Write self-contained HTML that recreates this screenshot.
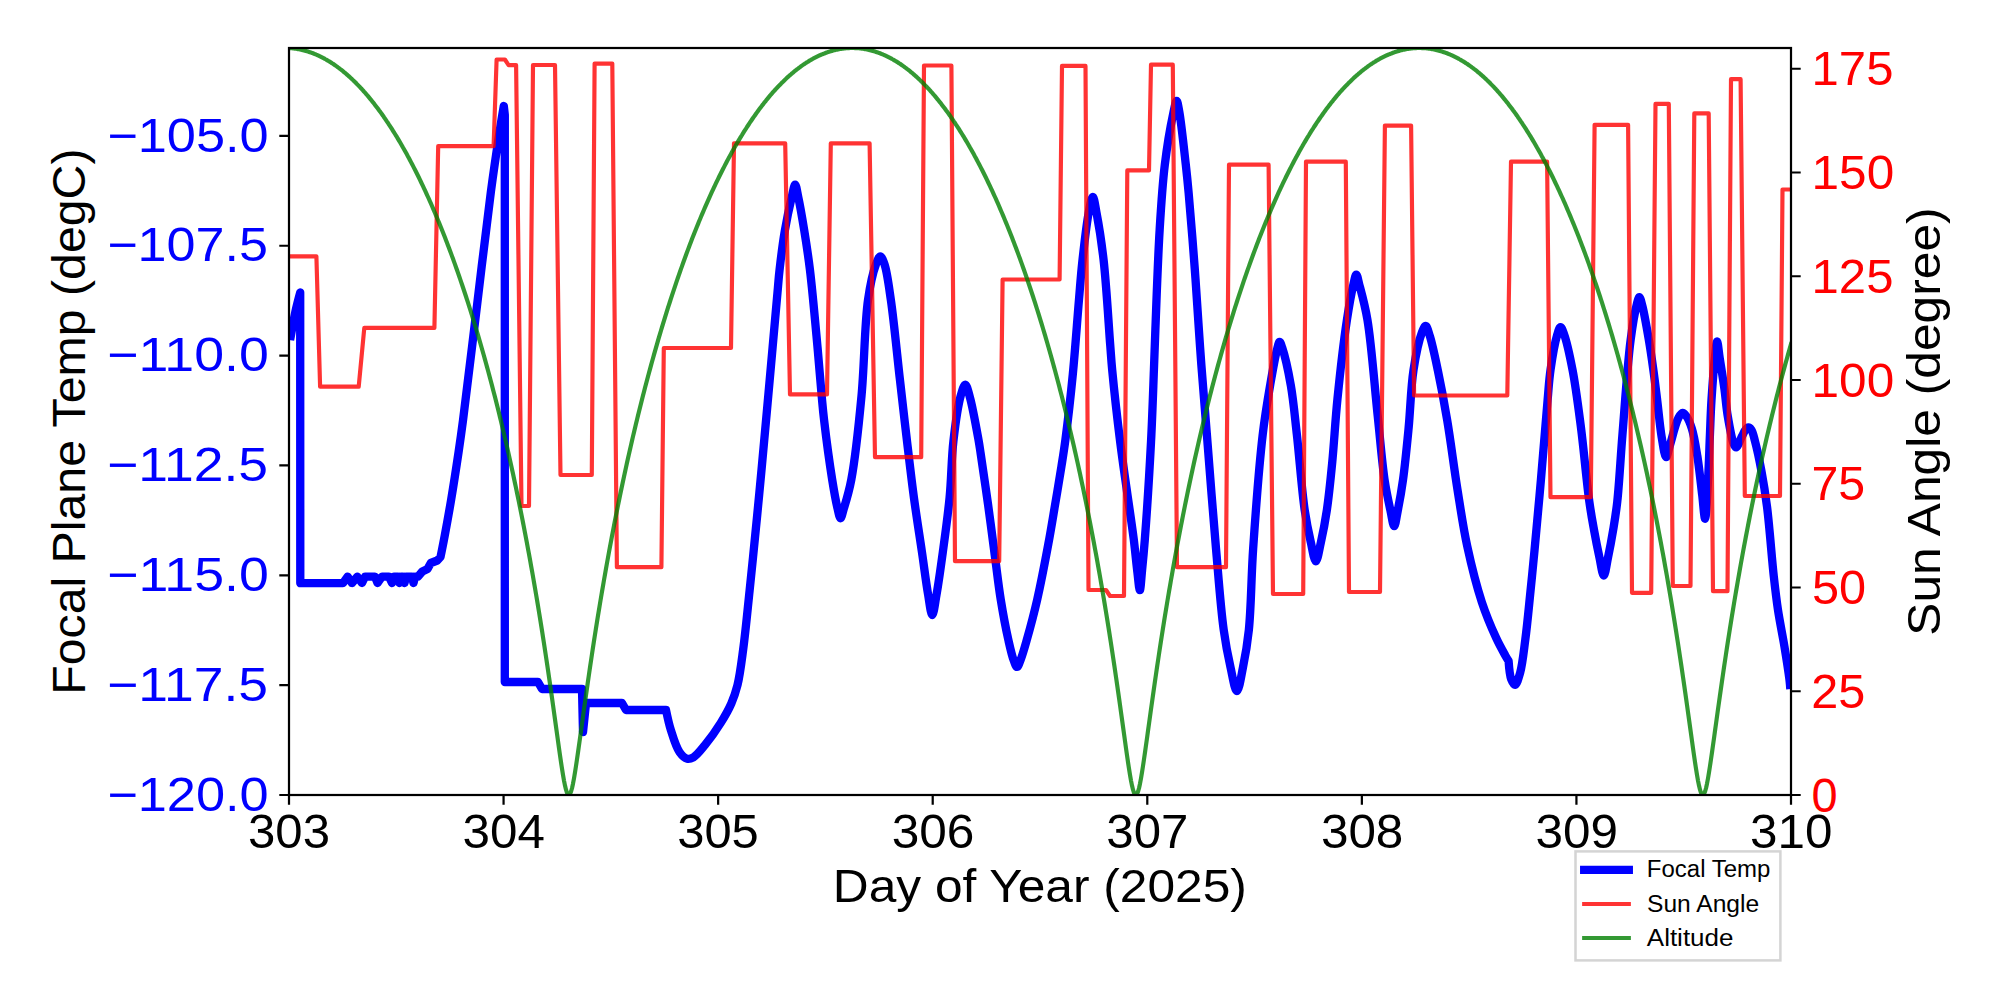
<!DOCTYPE html><html><head><meta charset="utf-8"><style>html,body{margin:0;padding:0;background:#fff;overflow:hidden}svg{display:block}</style></head><body><svg width="2000" height="1000" viewBox="0 0 2000 1000"><rect x="0" y="0" width="2000" height="1000" fill="#fff"/>
<defs><clipPath id="ax"><rect x="289.0" y="48.0" width="1502.0" height="747.0"/></clipPath></defs>
<g clip-path="url(#ax)" fill="none" stroke-linejoin="round" stroke-linecap="square">
<path d="M290.80 336.00C290.80 336.00 294.24 316.87 296.00 309.00C297.38 302.80 300.20 292.50 300.20 292.50L300.30 583.20L343.00 583.20L347.60 576.70L352.00 583.00L357.30 576.70L362.00 583.00L365.00 576.70L375.00 576.70L377.50 583.00L382.00 576.70L389.00 576.70L392.00 583.00L394.00 576.70L398.00 576.70L399.50 583.00L401.00 576.70L403.00 576.70L404.50 583.00L406.00 576.70L412.00 576.70L413.50 583.00L415.00 576.70L418.00 576.70L422.30 571.50L427.50 569.00L430.80 563.00L437.30 560.50L440.50 557.00C440.50 557.00 441.43 552.55 441.99 549.73C442.77 545.82 443.64 541.46 444.71 535.70C446.43 526.51 448.97 512.66 451.12 499.84C453.59 485.07 456.45 466.43 458.57 452.11C460.30 440.41 461.20 434.12 463.02 420.19C466.47 393.86 472.32 344.00 476.96 305.93C481.60 267.91 486.68 223.38 490.86 191.94C493.81 169.70 496.62 150.86 499.05 135.06C500.79 123.76 503.80 106.00 503.80 106.00L504.80 115.00L504.80 682.00L538.00 682.00L542.00 689.00L582.00 689.00L583.00 732.00L586.00 703.00L622.00 703.00L626.00 710.00L666.00 710.00C666.00 710.00 668.76 723.49 670.92 730.30C673.20 737.52 676.04 747.22 679.52 752.12C681.80 755.35 684.57 758.09 687.15 758.73C689.21 759.25 691.21 758.56 693.40 757.31C696.94 755.29 700.91 750.01 704.88 745.17C709.99 738.95 716.33 729.95 720.91 722.60C724.98 716.09 728.51 709.92 731.32 703.48C733.97 697.40 735.73 692.27 737.51 685.05C739.92 675.24 741.36 663.00 743.15 649.67C745.46 632.45 747.43 611.25 749.63 590.32C752.09 566.82 755.03 537.32 757.17 515.47C758.83 498.46 759.85 487.62 761.49 470.07C763.74 445.88 766.70 413.26 769.36 383.72C772.16 352.58 776.15 307.06 777.90 287.78C778.65 279.46 778.74 277.01 779.55 269.91C780.75 259.34 782.71 243.16 784.85 230.59C786.84 218.88 789.78 205.27 791.80 196.85C793.02 191.76 794.07 184.67 795.15 184.68C796.23 184.69 797.15 191.95 798.26 197.11C800.05 205.46 802.32 218.62 804.19 230.17C806.24 242.80 808.08 254.47 809.96 269.97C812.58 291.62 815.49 325.13 817.59 348.00C819.23 365.92 820.48 382.73 821.70 395.99C822.57 405.38 822.93 410.24 824.08 420.04C825.89 435.51 829.61 463.63 832.20 479.74C833.96 490.75 835.64 500.39 837.32 507.45C838.39 511.90 839.38 518.19 840.49 518.22C841.55 518.24 842.59 512.74 843.82 508.66C845.95 501.64 848.99 491.90 851.31 479.63C855.19 459.07 858.76 424.95 861.49 396.09C864.41 365.23 864.53 324.17 868.00 300.05C870.13 285.22 873.06 272.08 875.88 264.52C877.31 260.69 878.86 256.31 880.31 256.32C881.75 256.33 883.26 260.61 884.55 264.39C887.14 271.95 888.81 285.83 890.89 300.15C893.98 321.46 897.14 355.37 899.97 380.06C902.41 401.39 904.49 419.95 906.84 439.70C909.16 459.20 911.39 478.78 913.95 497.82C916.44 516.28 919.49 535.25 921.97 552.26C924.17 567.27 926.11 583.07 928.12 594.64C929.52 602.73 930.85 615.16 932.25 615.16C933.64 615.17 935.06 602.87 936.50 594.83C938.56 583.26 940.76 567.36 942.81 552.25C945.14 535.12 947.84 515.80 949.61 497.34C951.40 478.67 951.40 458.61 953.44 440.86C955.28 424.86 958.02 405.31 960.80 395.47C962.21 390.49 963.82 384.57 965.28 384.59C966.84 384.62 968.30 391.58 969.85 397.06C972.68 407.05 976.76 430.13 978.58 440.24C979.55 445.69 979.71 447.22 980.56 452.86C982.28 464.30 985.69 487.51 988.11 504.90C990.53 522.34 992.87 540.85 995.07 557.35C997.04 572.09 998.45 585.35 1000.69 599.22C1002.93 613.05 1005.96 629.24 1008.48 640.46C1010.25 648.31 1011.85 655.52 1013.67 660.30C1014.77 663.18 1015.92 666.95 1017.06 666.94C1018.23 666.93 1019.39 662.85 1020.60 659.83C1022.55 654.96 1024.51 647.90 1026.72 640.13C1029.87 629.05 1033.86 614.20 1037.21 599.57C1041.11 582.58 1045.19 560.96 1048.32 544.10C1050.94 530.06 1052.80 518.33 1054.98 505.37C1057.18 492.34 1059.62 477.92 1061.48 466.13C1063.00 456.49 1064.00 450.55 1065.41 439.79C1067.63 422.85 1070.61 396.78 1072.81 374.25C1075.15 350.35 1077.16 320.97 1078.93 300.25C1080.21 285.24 1080.85 275.15 1082.35 261.44C1084.04 245.93 1086.51 223.63 1088.81 211.95C1090.10 205.43 1091.54 196.87 1092.80 196.89C1094.08 196.90 1095.16 205.68 1096.43 212.25C1098.64 223.75 1101.52 241.79 1103.60 260.05C1106.36 284.33 1108.68 325.46 1110.24 345.25C1111.07 355.82 1111.19 359.32 1112.16 369.58C1113.85 387.35 1117.52 420.55 1120.22 442.26C1122.42 459.95 1124.60 474.31 1126.84 490.32C1129.07 506.33 1131.76 523.64 1133.62 538.31C1135.18 550.69 1136.25 563.08 1137.43 572.61C1138.28 579.45 1139.09 590.21 1139.84 590.20C1140.64 590.19 1141.31 577.84 1142.04 570.57C1142.96 561.48 1143.79 553.01 1144.80 539.89C1146.60 516.48 1149.44 472.18 1151.01 442.04C1152.35 416.17 1153.14 390.39 1153.92 369.89C1154.50 354.67 1154.71 346.38 1155.35 330.11C1156.37 304.29 1157.83 259.70 1159.65 229.94C1161.11 205.97 1162.33 185.39 1164.79 165.10C1166.98 146.99 1170.71 125.35 1173.16 113.94C1174.41 108.10 1175.59 100.84 1176.65 100.85C1177.60 100.86 1178.34 106.59 1179.25 111.55C1181.24 122.47 1184.10 149.61 1185.78 164.56C1187.01 175.50 1187.59 181.25 1188.65 193.00C1190.39 212.11 1192.96 244.47 1194.73 268.34C1196.33 289.92 1197.69 312.42 1198.90 330.04C1199.81 343.23 1200.32 351.16 1201.33 364.66C1202.75 383.69 1204.72 407.57 1206.78 433.43C1209.45 466.89 1212.96 513.57 1216.01 548.57C1218.57 577.92 1220.63 607.60 1223.65 629.47C1225.72 644.54 1228.04 656.28 1230.54 667.41C1232.53 676.30 1234.82 691.19 1236.90 691.17C1238.98 691.16 1241.18 675.99 1243.02 667.05C1245.27 656.09 1247.29 644.90 1248.84 630.10C1251.15 608.12 1251.18 577.33 1253.21 547.71C1255.59 512.95 1259.19 464.62 1262.72 434.51C1265.09 414.39 1267.66 399.68 1270.30 384.36C1272.55 371.33 1275.36 355.37 1277.31 348.31C1278.14 345.29 1278.77 342.01 1279.60 341.98C1280.38 341.94 1281.19 344.74 1282.12 347.45C1284.46 354.33 1288.43 371.78 1290.80 385.24C1293.46 400.39 1294.75 415.92 1296.80 433.97C1299.35 456.48 1301.74 489.99 1304.66 509.94C1306.58 523.04 1308.70 532.96 1310.82 542.28C1312.45 549.47 1314.17 561.25 1315.85 561.25C1317.52 561.25 1319.26 549.54 1320.88 542.35C1322.98 533.00 1325.13 521.72 1326.90 509.78C1329.04 495.37 1330.62 478.90 1332.28 461.85C1334.17 442.39 1335.20 421.30 1337.43 399.25C1339.93 374.46 1343.67 341.53 1346.86 320.39C1349.02 306.06 1351.45 292.68 1353.40 284.49C1354.43 280.15 1355.31 274.66 1356.30 274.65C1357.31 274.65 1358.21 280.48 1359.39 284.96C1361.56 293.13 1365.00 305.31 1367.45 319.92C1371.47 343.80 1374.58 386.59 1377.65 415.25C1380.17 438.77 1381.92 461.93 1384.53 479.51C1386.37 491.87 1388.67 502.33 1390.52 510.90C1391.82 516.89 1393.01 526.09 1394.21 526.08C1395.43 526.08 1396.56 516.64 1397.77 510.58C1399.46 502.10 1401.39 491.48 1403.00 479.88C1405.09 464.87 1406.90 445.77 1408.62 427.99C1410.42 409.25 1410.85 387.32 1413.49 370.16C1415.65 356.14 1419.16 339.59 1421.99 332.35C1423.23 329.19 1424.51 325.85 1425.70 325.93C1427.15 326.03 1428.42 331.64 1429.84 336.10C1432.39 344.09 1435.21 357.88 1437.84 370.41C1441.00 385.43 1444.16 402.17 1447.18 420.17C1450.74 441.36 1453.96 467.68 1457.48 489.62C1460.66 509.46 1463.17 527.46 1467.22 546.18C1471.29 564.99 1476.44 585.73 1481.87 602.22C1486.33 615.73 1491.85 628.62 1496.33 638.33C1499.48 645.18 1502.98 651.29 1505.28 655.41C1506.62 657.81 1508.60 661.00 1508.60 661.00C1508.60 661.00 1509.56 674.93 1511.20 679.14C1512.20 681.71 1513.81 684.92 1515.07 684.80C1516.79 684.63 1518.62 678.15 1520.06 673.15C1522.42 664.95 1523.71 651.72 1525.32 639.53C1527.22 625.08 1528.83 607.36 1530.41 592.02C1531.89 577.62 1533.05 565.88 1534.54 550.12C1536.47 529.75 1538.79 504.19 1540.89 480.05C1543.14 454.26 1545.78 420.29 1547.61 399.99C1548.73 387.52 1549.02 380.20 1550.52 369.79C1552.14 358.51 1554.99 342.07 1557.24 334.73C1558.32 331.21 1559.35 327.21 1560.49 327.17C1561.59 327.13 1562.76 330.62 1563.96 333.84C1566.63 341.03 1570.03 356.80 1572.61 370.28C1575.77 386.78 1578.15 405.84 1580.74 425.78C1583.76 449.00 1586.63 482.23 1589.28 501.30C1590.90 512.99 1592.23 520.11 1593.93 529.49C1595.63 538.89 1597.67 549.34 1599.48 557.64C1600.93 564.29 1602.34 575.52 1603.76 575.52C1605.18 575.51 1606.58 564.31 1607.99 557.66C1609.75 549.35 1611.70 538.85 1613.26 529.44C1614.81 520.08 1616.05 512.72 1617.30 501.35C1619.23 483.92 1620.46 459.00 1622.43 434.90C1624.78 406.12 1627.46 364.34 1630.59 340.23C1632.55 325.20 1635.00 311.00 1636.92 303.81C1637.76 300.68 1638.50 297.23 1639.34 297.24C1640.28 297.24 1641.26 301.85 1642.28 305.66C1644.32 313.24 1647.02 329.20 1648.91 340.31C1650.66 350.53 1651.99 360.08 1653.35 369.85C1654.68 379.45 1655.72 388.20 1656.99 398.42C1658.46 410.25 1659.80 425.97 1661.62 436.71C1662.97 444.64 1664.57 457.12 1666.12 457.20C1667.25 457.25 1668.18 450.84 1669.60 446.37C1671.89 439.12 1675.50 423.22 1678.49 417.84C1679.87 415.35 1681.27 413.14 1682.65 413.01C1683.78 412.91 1684.93 414.32 1686.04 415.74C1688.01 418.28 1690.09 423.14 1691.74 428.24C1694.12 435.57 1695.69 445.93 1697.33 456.01C1699.26 467.88 1700.81 483.65 1702.21 495.06C1703.30 503.95 1704.20 518.81 1705.08 518.79C1706.19 518.77 1707.24 493.46 1708.03 480.05C1708.89 465.59 1709.31 449.00 1709.92 434.94C1710.45 422.58 1710.69 412.52 1711.48 400.13C1712.38 385.89 1714.06 364.88 1715.26 354.28C1715.89 348.62 1716.43 341.32 1717.11 341.31C1717.88 341.31 1718.69 351.45 1719.67 357.82C1721.02 366.57 1723.06 379.06 1724.43 389.02C1725.67 398.13 1726.13 406.32 1727.61 415.24C1729.19 424.66 1731.67 439.29 1733.76 444.08C1734.54 445.86 1735.21 447.47 1736.12 447.41C1737.71 447.31 1740.30 439.48 1741.98 436.32C1743.24 433.96 1744.06 431.70 1745.30 430.15C1746.23 428.98 1747.29 427.54 1748.32 427.50C1749.32 427.45 1750.50 428.52 1751.39 429.78C1752.97 431.99 1753.71 436.34 1754.95 441.02C1756.96 448.58 1759.49 460.55 1761.44 471.00C1763.55 482.35 1765.26 492.79 1767.03 506.70C1769.49 526.09 1771.72 557.59 1773.82 576.62C1775.28 589.77 1776.26 598.59 1777.97 609.93C1779.77 621.88 1782.49 634.70 1784.45 646.58C1786.29 657.78 1788.61 672.83 1789.42 679.27C1789.76 681.95 1790.00 685.00 1790.00 685.00" stroke="#0000ff" stroke-width="8.33"/>
<path d="M289.0 256.3L316.4 256.3L320.1 386.7L358.7 386.7L364.3 327.9L434.4 327.9L438.2 146.1L493.6 146.1L496.6 59.5L504.9 59.5L508.6 65.1L516.1 65.1L521.5 506.0L529.0 506.0L533.0 65.0L555.0 65.0L560.5 475.0L591.8 475.0L594.6 63.6L612.3 63.6L616.9 567.2L661.4 567.2L663.8 348.0L731.0 348.0L734.0 143.4L785.2 143.4L790.0 394.4L827.0 394.4L830.8 143.4L869.6 143.4L875.0 457.2L921.2 457.2L924.0 65.5L951.4 65.5L955.0 561.2L999.2 561.2L1002.6 279.5L1059.6 279.5L1062.0 65.9L1085.5 65.9L1088.5 590.0L1106.0 590.0L1110.0 596.0L1124.0 596.0L1127.3 170.4L1149.0 170.4L1151.0 64.7L1172.8 64.7L1177.0 567.2L1226.0 567.2L1229.0 164.7L1268.6 164.7L1273.0 594.0L1303.2 594.0L1306.0 161.7L1345.8 161.7L1349.0 592.0L1380.0 592.0L1384.9 125.6L1411.1 125.6L1414.1 395.5L1507.3 395.5L1511.0 161.7L1547.1 161.7L1550.5 497.2L1590.8 497.2L1594.6 124.8L1628.1 124.8L1632.0 592.8L1651.2 592.8L1655.5 103.9L1668.8 103.9L1672.8 586.0L1690.5 586.0L1694.3 113.4L1708.7 113.4L1713.0 591.2L1727.5 591.2L1731.0 79.2L1740.6 79.2L1744.8 496.0L1780.0 496.0L1782.5 189.5L1791.0 189.5" stroke="#ff0000" stroke-opacity="0.8" stroke-width="4.17"/>
<path d="M289.0 48.1L290.0 48.2L291.0 48.2L292.0 48.3L293.0 48.4L294.0 48.5L295.0 48.7L296.0 48.8L297.0 48.9L298.0 49.1L299.0 49.3L300.0 49.5L301.0 49.7L302.0 49.9L303.0 50.2L304.0 50.4L305.0 50.7L306.0 51.0L307.0 51.3L308.0 51.6L309.0 51.9L310.0 52.2L311.0 52.6L312.0 52.9L313.0 53.3L314.0 53.7L315.0 54.1L316.0 54.5L317.0 55.0L318.0 55.4L319.0 55.9L320.0 56.4L321.0 56.9L322.0 57.4L323.0 57.9L324.0 58.4L325.0 59.0L326.0 59.5L327.0 60.1L328.0 60.7L329.0 61.3L330.0 61.9L331.0 62.5L332.0 63.2L333.0 63.8L334.0 64.5L335.0 65.2L336.0 65.9L337.0 66.6L338.0 67.4L339.0 68.1L340.0 68.9L341.0 69.6L342.0 70.4L343.0 71.2L344.0 72.1L345.0 72.9L346.0 73.7L347.0 74.6L348.0 75.5L349.0 76.4L350.0 77.3L351.0 78.2L352.0 79.1L353.0 80.1L354.0 81.1L355.0 82.0L356.0 83.0L357.0 84.1L358.0 85.1L359.0 86.1L360.0 87.2L361.0 88.3L362.0 89.3L363.0 90.4L364.0 91.6L365.0 92.7L366.0 93.8L367.0 95.0L368.0 96.2L369.0 97.4L370.0 98.6L371.0 99.8L372.0 101.1L373.0 102.3L374.0 103.6L375.0 104.9L376.0 106.2L377.0 107.5L378.0 108.8L379.0 110.2L380.0 111.5L381.0 112.9L382.0 114.3L383.0 115.7L384.0 117.2L385.0 118.6L386.0 120.1L387.0 121.6L388.0 123.0L389.0 124.6L390.0 126.1L391.0 127.6L392.0 129.2L393.0 130.8L394.0 132.4L395.0 134.0L396.0 135.6L397.0 137.2L398.0 138.9L399.0 140.6L400.0 142.3L401.0 144.0L402.0 145.7L403.0 147.5L404.0 149.2L405.0 151.0L406.0 152.8L407.0 154.6L408.0 156.5L409.0 158.3L410.0 160.2L411.0 162.1L412.0 164.0L413.0 165.9L414.0 167.9L415.0 169.8L416.0 171.8L417.0 173.8L418.0 175.8L419.0 177.8L420.0 179.9L421.0 182.0L422.0 184.1L423.0 186.2L424.0 188.3L425.0 190.4L426.0 192.6L427.0 194.8L428.0 197.0L429.0 199.2L430.0 201.5L431.0 203.7L432.0 206.0L433.0 208.3L434.0 210.7L435.0 213.0L436.0 215.4L437.0 217.8L438.0 220.2L439.0 222.6L440.0 225.0L441.0 227.5L442.0 230.0L443.0 232.5L444.0 235.0L445.0 237.6L446.0 240.2L447.0 242.8L448.0 245.4L449.0 248.0L450.0 250.7L451.0 253.4L452.0 256.1L453.0 258.8L454.0 261.6L455.0 264.4L456.0 267.2L457.0 270.0L458.0 272.9L459.0 275.7L460.0 278.6L461.0 281.6L462.0 284.5L463.0 287.5L464.0 290.5L465.0 293.5L466.0 296.5L467.0 299.6L468.0 302.7L469.0 305.8L470.0 309.0L471.0 312.2L472.0 315.4L473.0 318.6L474.0 321.9L475.0 325.2L476.0 328.5L477.0 331.8L478.0 335.2L479.0 338.6L480.0 342.0L481.0 345.5L482.0 349.0L483.0 352.5L484.0 356.0L485.0 359.6L486.0 363.2L487.0 366.9L488.0 370.5L489.0 374.2L490.0 378.0L491.0 381.7L492.0 385.5L493.0 389.4L494.0 393.2L495.0 397.1L496.0 401.1L497.0 405.1L498.0 409.1L499.0 413.1L500.0 417.2L501.0 421.3L502.0 425.5L503.0 429.7L504.0 433.9L505.0 438.2L506.0 442.5L507.0 446.8L508.0 451.2L509.0 455.6L510.0 460.1L511.0 464.6L512.0 469.2L513.0 473.8L514.0 478.5L515.0 483.2L516.0 487.9L517.0 492.7L518.0 497.5L519.0 502.4L520.0 507.4L521.0 512.4L522.0 517.4L523.0 522.5L524.0 527.6L525.0 532.8L526.0 538.1L527.0 543.4L528.0 548.8L529.0 554.2L530.0 559.7L531.0 565.3L532.0 570.9L533.0 576.5L534.0 582.3L535.0 588.1L536.0 594.0L537.0 599.9L538.0 605.9L539.0 612.0L540.0 618.2L541.0 624.4L542.0 630.7L543.0 637.1L544.0 643.5L545.0 650.1L546.0 656.7L547.0 663.4L548.0 670.1L549.0 677.0L550.0 683.9L551.0 690.9L552.0 697.9L553.0 705.0L554.0 712.2L555.0 719.4L556.0 726.6L557.0 733.8L558.0 741.0L559.0 748.2L560.0 755.2L561.0 762.1L562.0 768.6L563.0 774.9L564.0 780.6L565.0 785.6L566.0 789.7L567.0 792.8L568.0 794.5L569.0 795.0L570.0 794.0L571.0 791.7L572.0 788.2L573.0 783.7L574.0 778.3L575.0 772.4L576.0 766.0L577.0 759.3L578.0 752.4L579.0 745.3L580.0 738.2L581.0 730.9L582.0 723.7L583.0 716.5L584.0 709.3L585.0 702.2L586.0 695.1L587.0 688.1L588.0 681.1L589.0 674.2L590.0 667.4L591.0 660.7L592.0 654.0L593.0 647.4L594.0 640.9L595.0 634.5L596.0 628.2L597.0 621.9L598.0 615.7L599.0 609.6L600.0 603.5L601.0 597.5L602.0 591.6L603.0 585.8L604.0 580.0L605.0 574.3L606.0 568.6L607.0 563.0L608.0 557.5L609.0 552.0L610.0 546.6L611.0 541.3L612.0 536.0L613.0 530.8L614.0 525.6L615.0 520.5L616.0 515.4L617.0 510.4L618.0 505.4L619.0 500.5L620.0 495.6L621.0 490.8L622.0 486.0L623.0 481.3L624.0 476.6L625.0 472.0L626.0 467.4L627.0 462.8L628.0 458.3L629.0 453.9L630.0 449.5L631.0 445.1L632.0 440.7L633.0 436.4L634.0 432.2L635.0 428.0L636.0 423.8L637.0 419.7L638.0 415.5L639.0 411.5L640.0 407.5L641.0 403.5L642.0 399.5L643.0 395.6L644.0 391.7L645.0 387.8L646.0 384.0L647.0 380.2L648.0 376.5L649.0 372.7L650.0 369.1L651.0 365.4L652.0 361.8L653.0 358.2L654.0 354.6L655.0 351.1L656.0 347.6L657.0 344.1L658.0 340.6L659.0 337.2L660.0 333.8L661.0 330.5L662.0 327.1L663.0 323.8L664.0 320.6L665.0 317.3L666.0 314.1L667.0 310.9L668.0 307.7L669.0 304.6L670.0 301.5L671.0 298.4L672.0 295.3L673.0 292.3L674.0 289.3L675.0 286.3L676.0 283.3L677.0 280.4L678.0 277.5L679.0 274.6L680.0 271.7L681.0 268.9L682.0 266.1L683.0 263.3L684.0 260.5L685.0 257.7L686.0 255.0L687.0 252.3L688.0 249.6L689.0 247.0L690.0 244.3L691.0 241.7L692.0 239.1L693.0 236.6L694.0 234.0L695.0 231.5L696.0 229.0L697.0 226.5L698.0 224.1L699.0 221.6L700.0 219.2L701.0 216.8L702.0 214.4L703.0 212.1L704.0 209.7L705.0 207.4L706.0 205.1L707.0 202.8L708.0 200.6L709.0 198.3L710.0 196.1L711.0 193.9L712.0 191.7L713.0 189.6L714.0 187.4L715.0 185.3L716.0 183.2L717.0 181.1L718.0 179.1L719.0 177.0L720.0 175.0L721.0 173.0L722.0 171.0L723.0 169.0L724.0 167.1L725.0 165.1L726.0 163.2L727.0 161.3L728.0 159.4L729.0 157.6L730.0 155.7L731.0 153.9L732.0 152.1L733.0 150.3L734.0 148.5L735.0 146.8L736.0 145.0L737.0 143.3L738.0 141.6L739.0 139.9L740.0 138.2L741.0 136.6L742.0 135.0L743.0 133.3L744.0 131.7L745.0 130.1L746.0 128.6L747.0 127.0L748.0 125.5L749.0 124.0L750.0 122.4L751.0 121.0L752.0 119.5L753.0 118.0L754.0 116.6L755.0 115.2L756.0 113.8L757.0 112.4L758.0 111.0L759.0 109.6L760.0 108.3L761.0 107.0L762.0 105.6L763.0 104.4L764.0 103.1L765.0 101.8L766.0 100.6L767.0 99.3L768.0 98.1L769.0 96.9L770.0 95.7L771.0 94.5L772.0 93.4L773.0 92.2L774.0 91.1L775.0 90.0L776.0 88.9L777.0 87.8L778.0 86.8L779.0 85.7L780.0 84.7L781.0 83.7L782.0 82.6L783.0 81.7L784.0 80.7L785.0 79.7L786.0 78.8L787.0 77.8L788.0 76.9L789.0 76.0L790.0 75.1L791.0 74.3L792.0 73.4L793.0 72.6L794.0 71.7L795.0 70.9L796.0 70.1L797.0 69.3L798.0 68.6L799.0 67.8L800.0 67.1L801.0 66.3L802.0 65.6L803.0 64.9L804.0 64.2L805.0 63.6L806.0 62.9L807.0 62.3L808.0 61.7L809.0 61.0L810.0 60.4L811.0 59.9L812.0 59.3L813.0 58.7L814.0 58.2L815.0 57.7L816.0 57.2L817.0 56.7L818.0 56.2L819.0 55.7L820.0 55.2L821.0 54.8L822.0 54.4L823.0 54.0L824.0 53.6L825.0 53.2L826.0 52.8L827.0 52.4L828.0 52.1L829.0 51.8L830.0 51.4L831.0 51.1L832.0 50.9L833.0 50.6L834.0 50.3L835.0 50.1L836.0 49.8L837.0 49.6L838.0 49.4L839.0 49.2L840.0 49.0L841.0 48.9L842.0 48.7L843.0 48.6L844.0 48.5L845.0 48.4L846.0 48.3L847.0 48.2L848.0 48.1L849.0 48.1L850.0 48.0L851.0 48.0L852.0 48.0L853.0 48.0L854.0 48.0L855.0 48.1L856.0 48.1L857.0 48.2L858.0 48.2L859.0 48.3L860.0 48.4L861.0 48.5L862.0 48.7L863.0 48.8L864.0 48.9L865.0 49.1L866.0 49.3L867.0 49.5L868.0 49.7L869.0 49.9L870.0 50.2L871.0 50.4L872.0 50.7L873.0 51.0L874.0 51.3L875.0 51.6L876.0 51.9L877.0 52.2L878.0 52.6L879.0 52.9L880.0 53.3L881.0 53.7L882.0 54.1L883.0 54.5L884.0 55.0L885.0 55.4L886.0 55.9L887.0 56.4L888.0 56.9L889.0 57.4L890.0 57.9L891.0 58.4L892.0 59.0L893.0 59.5L894.0 60.1L895.0 60.7L896.0 61.3L897.0 61.9L898.0 62.5L899.0 63.2L900.0 63.8L901.0 64.5L902.0 65.2L903.0 65.9L904.0 66.6L905.0 67.4L906.0 68.1L907.0 68.9L908.0 69.6L909.0 70.4L910.0 71.2L911.0 72.1L912.0 72.9L913.0 73.7L914.0 74.6L915.0 75.5L916.0 76.4L917.0 77.3L918.0 78.2L919.0 79.1L920.0 80.1L921.0 81.1L922.0 82.0L923.0 83.0L924.0 84.1L925.0 85.1L926.0 86.1L927.0 87.2L928.0 88.3L929.0 89.3L930.0 90.4L931.0 91.6L932.0 92.7L933.0 93.8L934.0 95.0L935.0 96.2L936.0 97.4L937.0 98.6L938.0 99.8L939.0 101.1L940.0 102.3L941.0 103.6L942.0 104.9L943.0 106.2L944.0 107.5L945.0 108.8L946.0 110.2L947.0 111.5L948.0 112.9L949.0 114.3L950.0 115.7L951.0 117.2L952.0 118.6L953.0 120.1L954.0 121.6L955.0 123.0L956.0 124.6L957.0 126.1L958.0 127.6L959.0 129.2L960.0 130.8L961.0 132.4L962.0 134.0L963.0 135.6L964.0 137.2L965.0 138.9L966.0 140.6L967.0 142.3L968.0 144.0L969.0 145.7L970.0 147.5L971.0 149.2L972.0 151.0L973.0 152.8L974.0 154.6L975.0 156.5L976.0 158.3L977.0 160.2L978.0 162.1L979.0 164.0L980.0 165.9L981.0 167.9L982.0 169.8L983.0 171.8L984.0 173.8L985.0 175.8L986.0 177.8L987.0 179.9L988.0 182.0L989.0 184.1L990.0 186.2L991.0 188.3L992.0 190.4L993.0 192.6L994.0 194.8L995.0 197.0L996.0 199.2L997.0 201.5L998.0 203.7L999.0 206.0L1000.0 208.3L1001.0 210.7L1002.0 213.0L1003.0 215.4L1004.0 217.8L1005.0 220.2L1006.0 222.6L1007.0 225.0L1008.0 227.5L1009.0 230.0L1010.0 232.5L1011.0 235.0L1012.0 237.6L1013.0 240.2L1014.0 242.8L1015.0 245.4L1016.0 248.0L1017.0 250.7L1018.0 253.4L1019.0 256.1L1020.0 258.8L1021.0 261.6L1022.0 264.4L1023.0 267.2L1024.0 270.0L1025.0 272.9L1026.0 275.7L1027.0 278.6L1028.0 281.6L1029.0 284.5L1030.0 287.5L1031.0 290.5L1032.0 293.5L1033.0 296.5L1034.0 299.6L1035.0 302.7L1036.0 305.8L1037.0 309.0L1038.0 312.2L1039.0 315.4L1040.0 318.6L1041.0 321.9L1042.0 325.2L1043.0 328.5L1044.0 331.8L1045.0 335.2L1046.0 338.6L1047.0 342.0L1048.0 345.5L1049.0 349.0L1050.0 352.5L1051.0 356.0L1052.0 359.6L1053.0 363.2L1054.0 366.9L1055.0 370.5L1056.0 374.2L1057.0 378.0L1058.0 381.7L1059.0 385.5L1060.0 389.4L1061.0 393.2L1062.0 397.1L1063.0 401.1L1064.0 405.1L1065.0 409.1L1066.0 413.1L1067.0 417.2L1068.0 421.3L1069.0 425.5L1070.0 429.7L1071.0 433.9L1072.0 438.2L1073.0 442.5L1074.0 446.8L1075.0 451.2L1076.0 455.6L1077.0 460.1L1078.0 464.6L1079.0 469.2L1080.0 473.8L1081.0 478.5L1082.0 483.2L1083.0 487.9L1084.0 492.7L1085.0 497.5L1086.0 502.4L1087.0 507.4L1088.0 512.4L1089.0 517.4L1090.0 522.5L1091.0 527.6L1092.0 532.8L1093.0 538.1L1094.0 543.4L1095.0 548.8L1096.0 554.2L1097.0 559.7L1098.0 565.3L1099.0 570.9L1100.0 576.5L1101.0 582.3L1102.0 588.1L1103.0 594.0L1104.0 599.9L1105.0 605.9L1106.0 612.0L1107.0 618.2L1108.0 624.4L1109.0 630.7L1110.0 637.1L1111.0 643.5L1112.0 650.1L1113.0 656.7L1114.0 663.4L1115.0 670.1L1116.0 677.0L1117.0 683.9L1118.0 690.9L1119.0 697.9L1120.0 705.0L1121.0 712.2L1122.0 719.4L1123.0 726.6L1124.0 733.8L1125.0 741.0L1126.0 748.2L1127.0 755.2L1128.0 762.1L1129.0 768.6L1130.0 774.9L1131.0 780.6L1132.0 785.6L1133.0 789.7L1134.0 792.8L1135.0 794.5L1136.0 795.0L1137.0 794.0L1138.0 791.7L1139.0 788.2L1140.0 783.7L1141.0 778.3L1142.0 772.4L1143.0 766.0L1144.0 759.3L1145.0 752.4L1146.0 745.3L1147.0 738.2L1148.0 730.9L1149.0 723.7L1150.0 716.5L1151.0 709.3L1152.0 702.2L1153.0 695.1L1154.0 688.1L1155.0 681.1L1156.0 674.2L1157.0 667.4L1158.0 660.7L1159.0 654.0L1160.0 647.4L1161.0 640.9L1162.0 634.5L1163.0 628.2L1164.0 621.9L1165.0 615.7L1166.0 609.6L1167.0 603.5L1168.0 597.5L1169.0 591.6L1170.0 585.8L1171.0 580.0L1172.0 574.3L1173.0 568.6L1174.0 563.0L1175.0 557.5L1176.0 552.0L1177.0 546.6L1178.0 541.3L1179.0 536.0L1180.0 530.8L1181.0 525.6L1182.0 520.5L1183.0 515.4L1184.0 510.4L1185.0 505.4L1186.0 500.5L1187.0 495.6L1188.0 490.8L1189.0 486.0L1190.0 481.3L1191.0 476.6L1192.0 472.0L1193.0 467.4L1194.0 462.8L1195.0 458.3L1196.0 453.9L1197.0 449.5L1198.0 445.1L1199.0 440.7L1200.0 436.4L1201.0 432.2L1202.0 428.0L1203.0 423.8L1204.0 419.7L1205.0 415.5L1206.0 411.5L1207.0 407.5L1208.0 403.5L1209.0 399.5L1210.0 395.6L1211.0 391.7L1212.0 387.8L1213.0 384.0L1214.0 380.2L1215.0 376.5L1216.0 372.7L1217.0 369.1L1218.0 365.4L1219.0 361.8L1220.0 358.2L1221.0 354.6L1222.0 351.1L1223.0 347.6L1224.0 344.1L1225.0 340.6L1226.0 337.2L1227.0 333.8L1228.0 330.5L1229.0 327.1L1230.0 323.8L1231.0 320.6L1232.0 317.3L1233.0 314.1L1234.0 310.9L1235.0 307.7L1236.0 304.6L1237.0 301.5L1238.0 298.4L1239.0 295.3L1240.0 292.3L1241.0 289.3L1242.0 286.3L1243.0 283.3L1244.0 280.4L1245.0 277.5L1246.0 274.6L1247.0 271.7L1248.0 268.9L1249.0 266.1L1250.0 263.3L1251.0 260.5L1252.0 257.7L1253.0 255.0L1254.0 252.3L1255.0 249.6L1256.0 247.0L1257.0 244.3L1258.0 241.7L1259.0 239.1L1260.0 236.6L1261.0 234.0L1262.0 231.5L1263.0 229.0L1264.0 226.5L1265.0 224.1L1266.0 221.6L1267.0 219.2L1268.0 216.8L1269.0 214.4L1270.0 212.1L1271.0 209.7L1272.0 207.4L1273.0 205.1L1274.0 202.8L1275.0 200.6L1276.0 198.3L1277.0 196.1L1278.0 193.9L1279.0 191.7L1280.0 189.6L1281.0 187.4L1282.0 185.3L1283.0 183.2L1284.0 181.1L1285.0 179.1L1286.0 177.0L1287.0 175.0L1288.0 173.0L1289.0 171.0L1290.0 169.0L1291.0 167.1L1292.0 165.1L1293.0 163.2L1294.0 161.3L1295.0 159.4L1296.0 157.6L1297.0 155.7L1298.0 153.9L1299.0 152.1L1300.0 150.3L1301.0 148.5L1302.0 146.8L1303.0 145.0L1304.0 143.3L1305.0 141.6L1306.0 139.9L1307.0 138.2L1308.0 136.6L1309.0 135.0L1310.0 133.3L1311.0 131.7L1312.0 130.1L1313.0 128.6L1314.0 127.0L1315.0 125.5L1316.0 124.0L1317.0 122.4L1318.0 121.0L1319.0 119.5L1320.0 118.0L1321.0 116.6L1322.0 115.2L1323.0 113.8L1324.0 112.4L1325.0 111.0L1326.0 109.6L1327.0 108.3L1328.0 107.0L1329.0 105.6L1330.0 104.4L1331.0 103.1L1332.0 101.8L1333.0 100.6L1334.0 99.3L1335.0 98.1L1336.0 96.9L1337.0 95.7L1338.0 94.5L1339.0 93.4L1340.0 92.2L1341.0 91.1L1342.0 90.0L1343.0 88.9L1344.0 87.8L1345.0 86.8L1346.0 85.7L1347.0 84.7L1348.0 83.7L1349.0 82.6L1350.0 81.7L1351.0 80.7L1352.0 79.7L1353.0 78.8L1354.0 77.8L1355.0 76.9L1356.0 76.0L1357.0 75.1L1358.0 74.3L1359.0 73.4L1360.0 72.6L1361.0 71.7L1362.0 70.9L1363.0 70.1L1364.0 69.3L1365.0 68.6L1366.0 67.8L1367.0 67.1L1368.0 66.3L1369.0 65.6L1370.0 64.9L1371.0 64.2L1372.0 63.6L1373.0 62.9L1374.0 62.3L1375.0 61.7L1376.0 61.0L1377.0 60.4L1378.0 59.9L1379.0 59.3L1380.0 58.7L1381.0 58.2L1382.0 57.7L1383.0 57.2L1384.0 56.7L1385.0 56.2L1386.0 55.7L1387.0 55.2L1388.0 54.8L1389.0 54.4L1390.0 54.0L1391.0 53.6L1392.0 53.2L1393.0 52.8L1394.0 52.4L1395.0 52.1L1396.0 51.8L1397.0 51.4L1398.0 51.1L1399.0 50.9L1400.0 50.6L1401.0 50.3L1402.0 50.1L1403.0 49.8L1404.0 49.6L1405.0 49.4L1406.0 49.2L1407.0 49.0L1408.0 48.9L1409.0 48.7L1410.0 48.6L1411.0 48.5L1412.0 48.4L1413.0 48.3L1414.0 48.2L1415.0 48.1L1416.0 48.1L1417.0 48.0L1418.0 48.0L1419.0 48.0L1420.0 48.0L1421.0 48.0L1422.0 48.1L1423.0 48.1L1424.0 48.2L1425.0 48.2L1426.0 48.3L1427.0 48.4L1428.0 48.5L1429.0 48.7L1430.0 48.8L1431.0 48.9L1432.0 49.1L1433.0 49.3L1434.0 49.5L1435.0 49.7L1436.0 49.9L1437.0 50.2L1438.0 50.4L1439.0 50.7L1440.0 51.0L1441.0 51.3L1442.0 51.6L1443.0 51.9L1444.0 52.2L1445.0 52.6L1446.0 52.9L1447.0 53.3L1448.0 53.7L1449.0 54.1L1450.0 54.5L1451.0 55.0L1452.0 55.4L1453.0 55.9L1454.0 56.4L1455.0 56.9L1456.0 57.4L1457.0 57.9L1458.0 58.4L1459.0 59.0L1460.0 59.5L1461.0 60.1L1462.0 60.7L1463.0 61.3L1464.0 61.9L1465.0 62.5L1466.0 63.2L1467.0 63.8L1468.0 64.5L1469.0 65.2L1470.0 65.9L1471.0 66.6L1472.0 67.4L1473.0 68.1L1474.0 68.9L1475.0 69.6L1476.0 70.4L1477.0 71.2L1478.0 72.1L1479.0 72.9L1480.0 73.7L1481.0 74.6L1482.0 75.5L1483.0 76.4L1484.0 77.3L1485.0 78.2L1486.0 79.1L1487.0 80.1L1488.0 81.1L1489.0 82.0L1490.0 83.0L1491.0 84.1L1492.0 85.1L1493.0 86.1L1494.0 87.2L1495.0 88.3L1496.0 89.3L1497.0 90.4L1498.0 91.6L1499.0 92.7L1500.0 93.8L1501.0 95.0L1502.0 96.2L1503.0 97.4L1504.0 98.6L1505.0 99.8L1506.0 101.1L1507.0 102.3L1508.0 103.6L1509.0 104.9L1510.0 106.2L1511.0 107.5L1512.0 108.8L1513.0 110.2L1514.0 111.5L1515.0 112.9L1516.0 114.3L1517.0 115.7L1518.0 117.2L1519.0 118.6L1520.0 120.1L1521.0 121.6L1522.0 123.0L1523.0 124.6L1524.0 126.1L1525.0 127.6L1526.0 129.2L1527.0 130.8L1528.0 132.4L1529.0 134.0L1530.0 135.6L1531.0 137.2L1532.0 138.9L1533.0 140.6L1534.0 142.3L1535.0 144.0L1536.0 145.7L1537.0 147.5L1538.0 149.2L1539.0 151.0L1540.0 152.8L1541.0 154.6L1542.0 156.5L1543.0 158.3L1544.0 160.2L1545.0 162.1L1546.0 164.0L1547.0 165.9L1548.0 167.9L1549.0 169.8L1550.0 171.8L1551.0 173.8L1552.0 175.8L1553.0 177.8L1554.0 179.9L1555.0 182.0L1556.0 184.1L1557.0 186.2L1558.0 188.3L1559.0 190.4L1560.0 192.6L1561.0 194.8L1562.0 197.0L1563.0 199.2L1564.0 201.5L1565.0 203.7L1566.0 206.0L1567.0 208.3L1568.0 210.7L1569.0 213.0L1570.0 215.4L1571.0 217.8L1572.0 220.2L1573.0 222.6L1574.0 225.0L1575.0 227.5L1576.0 230.0L1577.0 232.5L1578.0 235.0L1579.0 237.6L1580.0 240.2L1581.0 242.8L1582.0 245.4L1583.0 248.0L1584.0 250.7L1585.0 253.4L1586.0 256.1L1587.0 258.8L1588.0 261.6L1589.0 264.4L1590.0 267.2L1591.0 270.0L1592.0 272.9L1593.0 275.7L1594.0 278.6L1595.0 281.6L1596.0 284.5L1597.0 287.5L1598.0 290.5L1599.0 293.5L1600.0 296.5L1601.0 299.6L1602.0 302.7L1603.0 305.8L1604.0 309.0L1605.0 312.2L1606.0 315.4L1607.0 318.6L1608.0 321.9L1609.0 325.2L1610.0 328.5L1611.0 331.8L1612.0 335.2L1613.0 338.6L1614.0 342.0L1615.0 345.5L1616.0 349.0L1617.0 352.5L1618.0 356.0L1619.0 359.6L1620.0 363.2L1621.0 366.9L1622.0 370.5L1623.0 374.2L1624.0 378.0L1625.0 381.7L1626.0 385.5L1627.0 389.4L1628.0 393.2L1629.0 397.1L1630.0 401.1L1631.0 405.1L1632.0 409.1L1633.0 413.1L1634.0 417.2L1635.0 421.3L1636.0 425.5L1637.0 429.7L1638.0 433.9L1639.0 438.2L1640.0 442.5L1641.0 446.8L1642.0 451.2L1643.0 455.6L1644.0 460.1L1645.0 464.6L1646.0 469.2L1647.0 473.8L1648.0 478.5L1649.0 483.2L1650.0 487.9L1651.0 492.7L1652.0 497.5L1653.0 502.4L1654.0 507.4L1655.0 512.4L1656.0 517.4L1657.0 522.5L1658.0 527.6L1659.0 532.8L1660.0 538.1L1661.0 543.4L1662.0 548.8L1663.0 554.2L1664.0 559.7L1665.0 565.3L1666.0 570.9L1667.0 576.5L1668.0 582.3L1669.0 588.1L1670.0 594.0L1671.0 599.9L1672.0 605.9L1673.0 612.0L1674.0 618.2L1675.0 624.4L1676.0 630.7L1677.0 637.1L1678.0 643.5L1679.0 650.1L1680.0 656.7L1681.0 663.4L1682.0 670.1L1683.0 677.0L1684.0 683.9L1685.0 690.9L1686.0 697.9L1687.0 705.0L1688.0 712.2L1689.0 719.4L1690.0 726.6L1691.0 733.8L1692.0 741.0L1693.0 748.2L1694.0 755.2L1695.0 762.1L1696.0 768.6L1697.0 774.9L1698.0 780.6L1699.0 785.6L1700.0 789.7L1701.0 792.8L1702.0 794.5L1703.0 795.0L1704.0 794.0L1705.0 791.7L1706.0 788.2L1707.0 783.7L1708.0 778.3L1709.0 772.4L1710.0 766.0L1711.0 759.3L1712.0 752.4L1713.0 745.3L1714.0 738.2L1715.0 730.9L1716.0 723.7L1717.0 716.5L1718.0 709.3L1719.0 702.2L1720.0 695.1L1721.0 688.1L1722.0 681.1L1723.0 674.2L1724.0 667.4L1725.0 660.7L1726.0 654.0L1727.0 647.4L1728.0 640.9L1729.0 634.5L1730.0 628.2L1731.0 621.9L1732.0 615.7L1733.0 609.6L1734.0 603.5L1735.0 597.5L1736.0 591.6L1737.0 585.8L1738.0 580.0L1739.0 574.3L1740.0 568.6L1741.0 563.0L1742.0 557.5L1743.0 552.0L1744.0 546.6L1745.0 541.3L1746.0 536.0L1747.0 530.8L1748.0 525.6L1749.0 520.5L1750.0 515.4L1751.0 510.4L1752.0 505.4L1753.0 500.5L1754.0 495.6L1755.0 490.8L1756.0 486.0L1757.0 481.3L1758.0 476.6L1759.0 472.0L1760.0 467.4L1761.0 462.8L1762.0 458.3L1763.0 453.9L1764.0 449.5L1765.0 445.1L1766.0 440.7L1767.0 436.4L1768.0 432.2L1769.0 428.0L1770.0 423.8L1771.0 419.7L1772.0 415.5L1773.0 411.5L1774.0 407.5L1775.0 403.5L1776.0 399.5L1777.0 395.6L1778.0 391.7L1779.0 387.8L1780.0 384.0L1781.0 380.2L1782.0 376.5L1783.0 372.7L1784.0 369.1L1785.0 365.4L1786.0 361.8L1787.0 358.2L1788.0 354.6L1789.0 351.1L1790.0 347.6L1791.0 344.1" stroke="#008000" stroke-opacity="0.8" stroke-width="4.17"/>
</g>
<rect x="289.0" y="48.0" width="1502.0" height="747.0" fill="none" stroke="#000" stroke-width="2.22" stroke-linejoin="miter"/>
<path d="M279.3 795.00H289.0M279.3 685.15H289.0M279.3 575.29H289.0M279.3 465.44H289.0M279.3 355.59H289.0M279.3 245.74H289.0M279.3 135.88H289.0M1791.0 795.00H1800.7M1791.0 691.25H1800.7M1791.0 587.50H1800.7M1791.0 483.75H1800.7M1791.0 380.00H1800.7M1791.0 276.25H1800.7M1791.0 172.50H1800.7M1791.0 68.75H1800.7M289.00 795.0V804.7M503.57 795.0V804.7M718.14 795.0V804.7M932.71 795.0V804.7M1147.29 795.0V804.7M1361.86 795.0V804.7M1576.43 795.0V804.7M1791.00 795.0V804.7" stroke="#000" stroke-width="2.22" fill="none"/>
<g font-family="Liberation Sans, sans-serif">
<text x="107.19" y="810.70" fill="#0000ff" font-size="48.00" textLength="161.53" lengthAdjust="spacingAndGlyphs">−120.0</text>
<text x="107.13" y="700.85" fill="#0000ff" font-size="48.00" textLength="160.92" lengthAdjust="spacingAndGlyphs">−117.5</text>
<text x="107.12" y="590.99" fill="#0000ff" font-size="48.00" textLength="161.69" lengthAdjust="spacingAndGlyphs">−115.0</text>
<text x="107.13" y="481.14" fill="#0000ff" font-size="48.00" textLength="160.92" lengthAdjust="spacingAndGlyphs">−112.5</text>
<text x="107.12" y="371.29" fill="#0000ff" font-size="48.00" textLength="161.69" lengthAdjust="spacingAndGlyphs">−110.0</text>
<text x="107.20" y="261.44" fill="#0000ff" font-size="48.00" textLength="160.75" lengthAdjust="spacingAndGlyphs">−107.5</text>
<text x="107.19" y="151.58" fill="#0000ff" font-size="48.00" textLength="161.53" lengthAdjust="spacingAndGlyphs">−105.0</text>
<text x="1811.41" y="811.60" fill="#ff0000" font-size="48.00" textLength="26.14" lengthAdjust="spacingAndGlyphs">0</text>
<text x="1811.19" y="707.85" fill="#ff0000" font-size="48.00" textLength="54.04" lengthAdjust="spacingAndGlyphs">25</text>
<text x="1811.90" y="604.10" fill="#ff0000" font-size="48.00" textLength="54.10" lengthAdjust="spacingAndGlyphs">50</text>
<text x="1811.53" y="500.35" fill="#ff0000" font-size="48.00" textLength="53.68" lengthAdjust="spacingAndGlyphs">75</text>
<text x="1811.57" y="396.60" fill="#ff0000" font-size="48.00" textLength="82.61" lengthAdjust="spacingAndGlyphs">100</text>
<text x="1811.61" y="292.85" fill="#ff0000" font-size="48.00" textLength="81.79" lengthAdjust="spacingAndGlyphs">125</text>
<text x="1811.57" y="189.10" fill="#ff0000" font-size="48.00" textLength="82.61" lengthAdjust="spacingAndGlyphs">150</text>
<text x="1811.61" y="85.35" fill="#ff0000" font-size="48.00" textLength="81.79" lengthAdjust="spacingAndGlyphs">175</text>
<text x="248.08" y="847.90" fill="#000" font-size="48.00" textLength="81.86" lengthAdjust="spacingAndGlyphs">303</text>
<text x="462.64" y="847.90" fill="#000" font-size="48.00" textLength="82.25" lengthAdjust="spacingAndGlyphs">304</text>
<text x="677.23" y="847.90" fill="#000" font-size="48.00" textLength="81.49" lengthAdjust="spacingAndGlyphs">305</text>
<text x="891.78" y="847.90" fill="#000" font-size="48.00" textLength="82.67" lengthAdjust="spacingAndGlyphs">306</text>
<text x="1106.36" y="847.90" fill="#000" font-size="48.00" textLength="82.01" lengthAdjust="spacingAndGlyphs">307</text>
<text x="1320.92" y="847.90" fill="#000" font-size="48.00" textLength="82.44" lengthAdjust="spacingAndGlyphs">308</text>
<text x="1535.50" y="847.90" fill="#000" font-size="48.00" textLength="82.45" lengthAdjust="spacingAndGlyphs">309</text>
<text x="1750.07" y="847.90" fill="#000" font-size="48.00" textLength="82.30" lengthAdjust="spacingAndGlyphs">310</text>
<text x="832.82" y="902.40" fill="#000" font-size="47.00" textLength="414.02" lengthAdjust="spacingAndGlyphs">Day of Year (2025)</text>
<text x="-273.32" y="0" fill="#000" font-size="47.00" textLength="546.31" lengthAdjust="spacingAndGlyphs" transform="translate(84.70 421.50) rotate(-90)">Focal Plane Temp (degC)</text>
<text x="-214.18" y="0" fill="#000" font-size="47.00" textLength="428.30" lengthAdjust="spacingAndGlyphs" transform="translate(1940.20 421.50) rotate(-90)">Sun Angle (degree)</text>
</g>
<rect x="1575.5" y="851.4" width="204.9" height="109.0" fill="#fff" stroke="#d4d4d4" stroke-width="2.5"/>
<path d="M1584.2 869.9H1628.8" stroke="#0000ff" stroke-width="8.33" stroke-linecap="square"/>
<path d="M1584.2 904H1628.8" stroke="#ff0000" stroke-opacity="0.8" stroke-width="4.17" stroke-linecap="square"/>
<path d="M1584.2 938H1628.8" stroke="#008000" stroke-opacity="0.8" stroke-width="4.17" stroke-linecap="square"/>
<g font-family="Liberation Sans, sans-serif">
<text x="1646.89" y="876.70" fill="#000" font-size="23.50" textLength="123.44" lengthAdjust="spacingAndGlyphs">Focal Temp</text>
<text x="1647.04" y="911.90" fill="#000" font-size="23.50" textLength="112.14" lengthAdjust="spacingAndGlyphs">Sun Angle</text>
<text x="1646.80" y="945.70" fill="#000" font-size="23.50" textLength="86.68" lengthAdjust="spacingAndGlyphs">Altitude</text>
</g></svg></body></html>
